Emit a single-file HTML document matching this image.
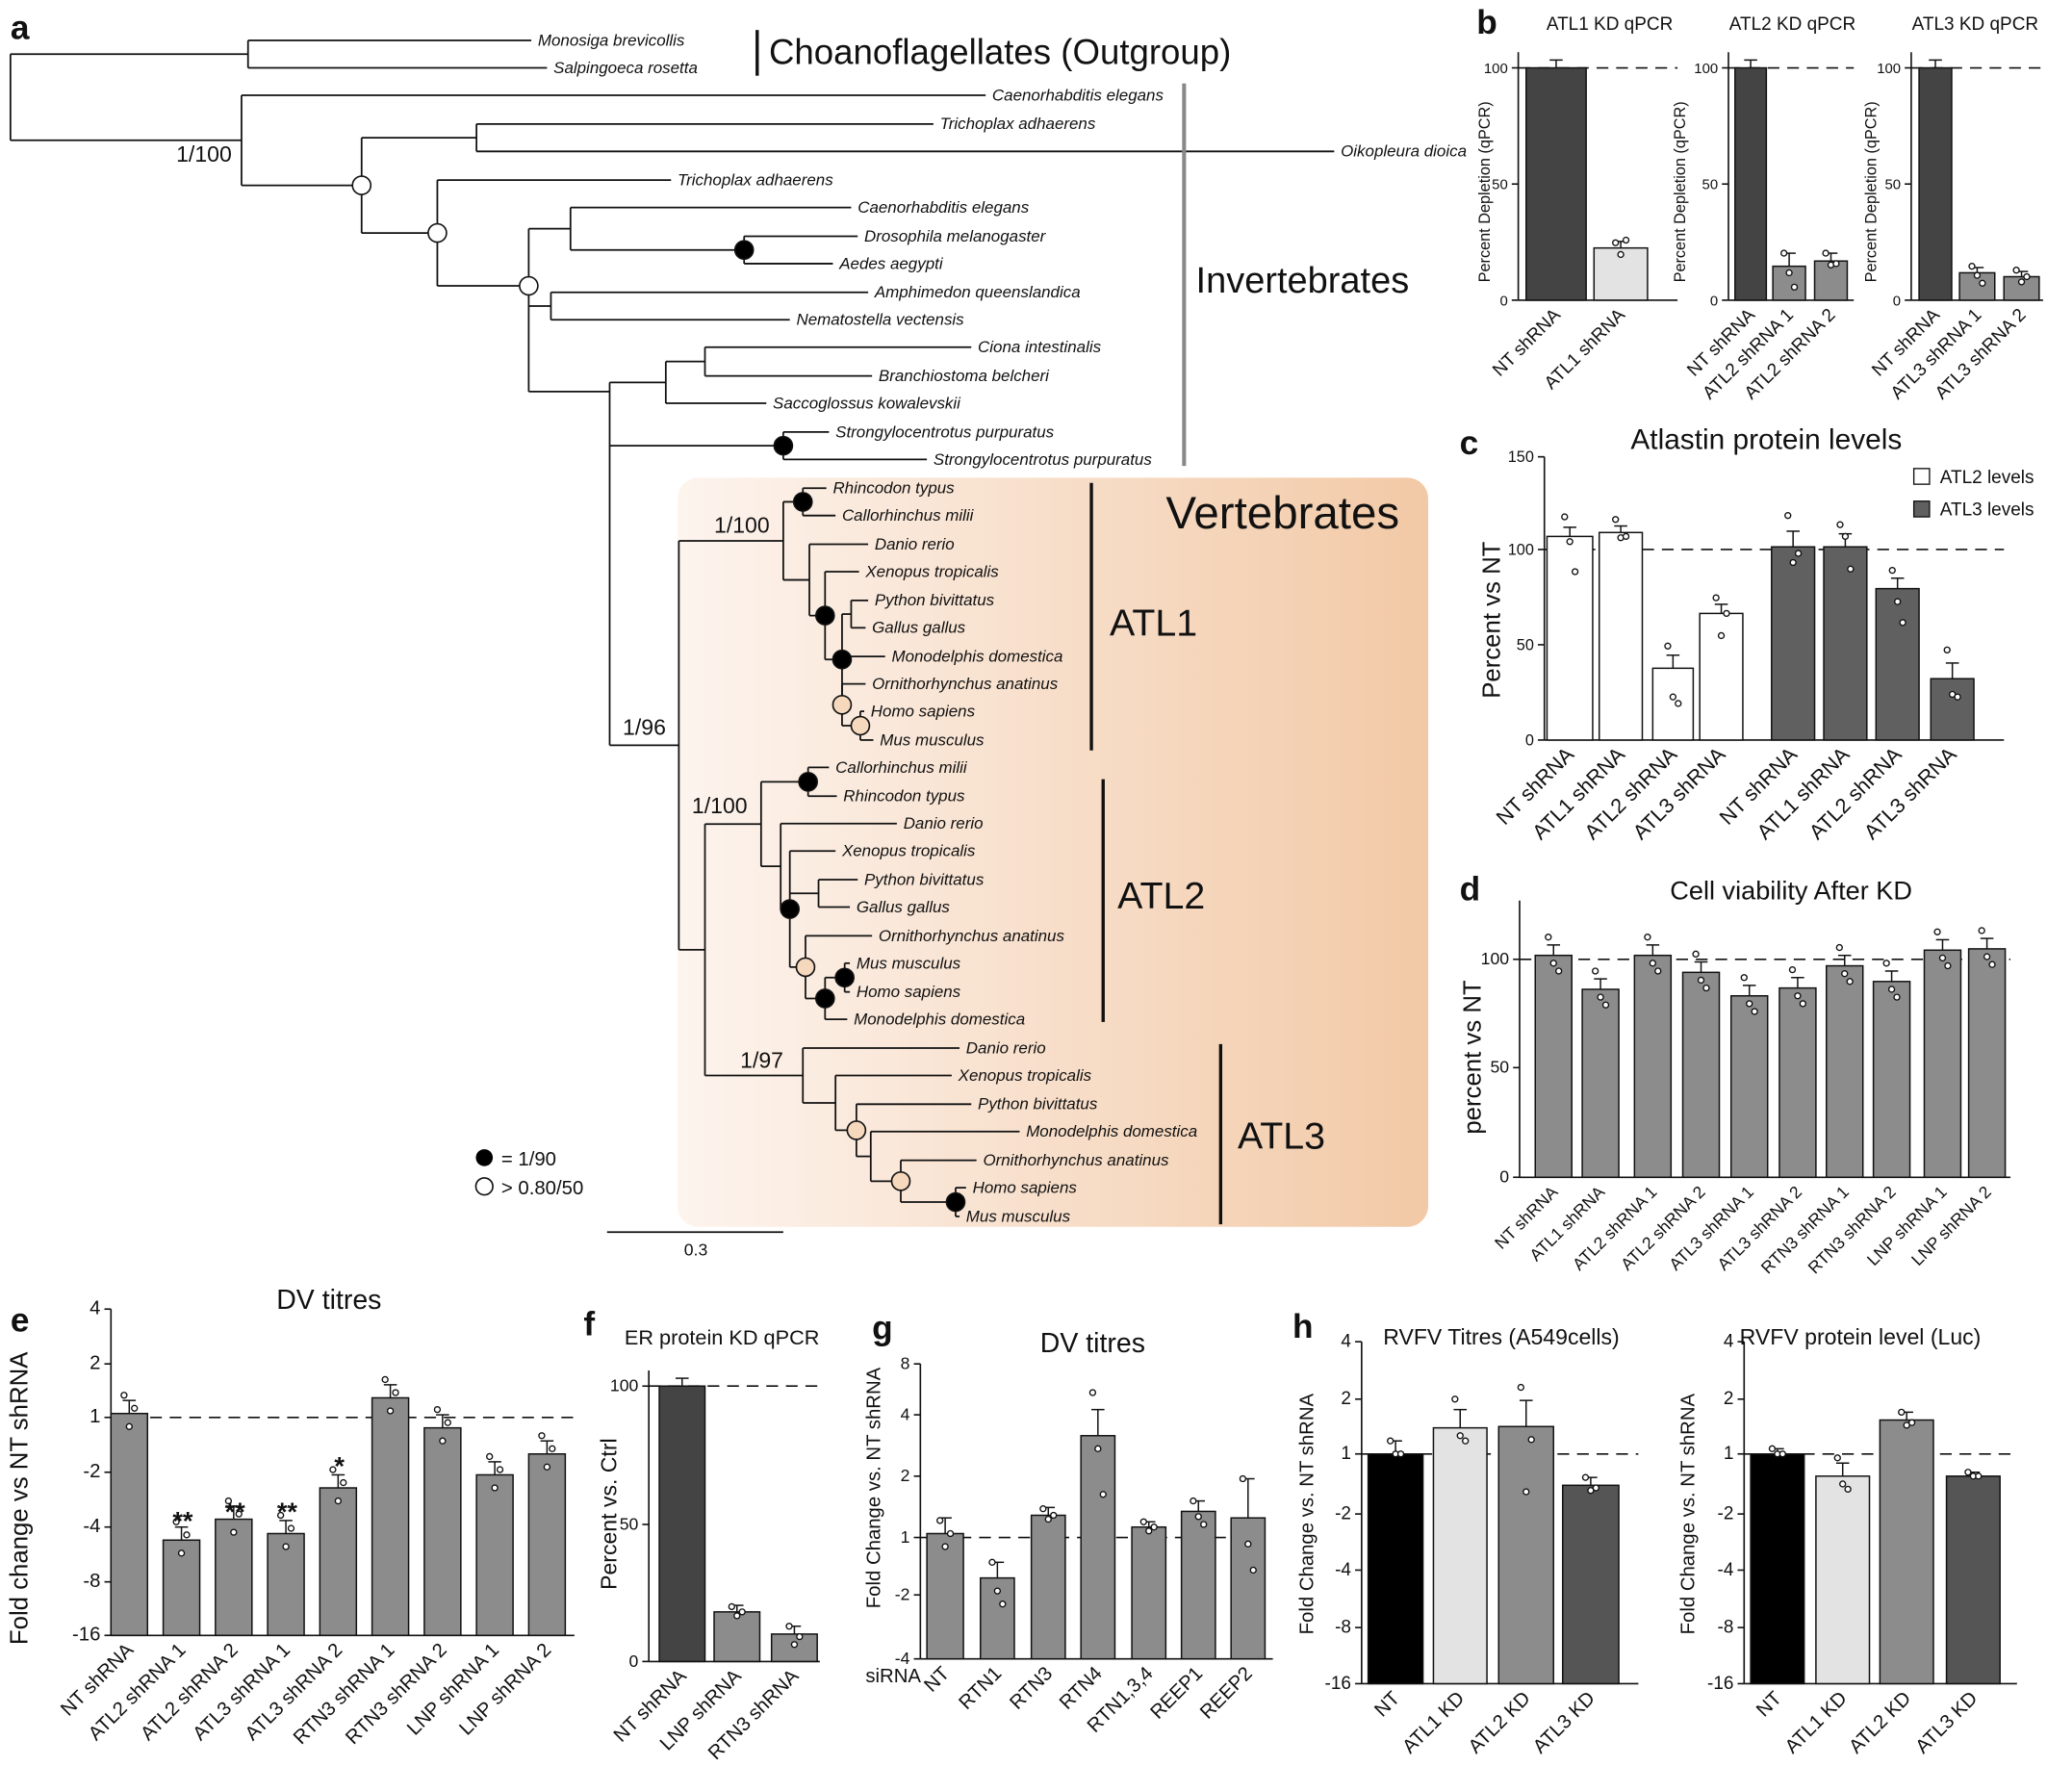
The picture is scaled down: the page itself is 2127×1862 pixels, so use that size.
<!DOCTYPE html>
<html><head><meta charset="utf-8">
<style>
html,body{margin:0;padding:0;background:#fff;}
svg{display:block;}
text{font-family:"Liberation Sans",Arial,sans-serif;fill:#111;}
</style></head>
<body>
<svg id="s" xmlns="http://www.w3.org/2000/svg" width="2127" height="1862" viewBox="0 0 1568 1373" preserveAspectRatio="none">
<defs>
<linearGradient id="vg" x1="0" x2="1" y1="0" y2="0">
<stop offset="0" stop-color="#fdf4ee"/><stop offset="1" stop-color="#f2c9a6"/>
</linearGradient>
</defs>
<rect x="519" y="366" width="575" height="574" rx="16" fill="url(#vg)"/>
<g id="tree" stroke="#111" stroke-width="1.3" fill="none"></g>
<g id="rest"></g>
</svg>
<script>
var NS="http://www.w3.org/2000/svg";
var tree=document.getElementById('tree'), rest=document.getElementById('rest');
function el(tag,attrs,parent,txt){var e=document.createElementNS(NS,tag);for(var k in attrs)e.setAttribute(k,attrs[k]);if(txt!==undefined)e.textContent=txt;(parent||rest).appendChild(e);return e;}
function line(x1,y1,x2,y2,p,st){el('line',Object.assign({x1:x1,y1:y1,x2:x2,y2:y2,stroke:'#111','stroke-width':1.3},st||{}),p||rest);}
function txt(x,y,s,fs,extra){var a=Object.assign({x:x,y:y},extra||{});var st='font-size:'+fs+'px;';if(a.it){st+='font-style:italic;';delete a.it;}if(a.b){st+='font-weight:bold;';delete a.b;}a.style=st;return el('text',a,rest,s);}
function T(y,lx,n){return {tip:1,y:y,lx:lx,n:n};}
function N(x,ch,o){o=o||{};return {x:x,ch:ch,y:o.y,c:o.c};}
var circles=[];
function draw(nd,px){
 if(nd.tip){line(px,nd.y,nd.lx-5,nd.y,tree);txt(nd.lx,nd.y+4,nd.n,12.5,{it:1});return nd.y;}
 var ys=nd.ch.map(function(c){return draw(c,nd.x);});
 var mn=Math.min.apply(null,ys),mx=Math.max.apply(null,ys);
 var y=nd.y!==undefined?nd.y:(mn+mx)/2;
 mn=Math.min(mn,y);mx=Math.max(mx,y);
 line(nd.x,mn,nd.x,mx,tree);
 if(px!==null)line(px,y,nd.x,y,tree);
 if(nd.c)circles.push([nd.x,y,nd.c]);
 return y;
}
var n659=N(659,[T(545,667,'Homo sapiens'),T(567,674,'Mus musculus')],{c:'p'});
var n645p=N(645,[T(524,668,'Ornithorhynchus anatinus'),n659],{c:'p'});
var n645b=N(645,[N(652,[T(460,670,'Python bivittatus'),T(481,668,'Gallus gallus')]),T(503,683,'Monodelphis domestica'),n645p],{c:'b'});
var n632=N(632,[T(438,663,'Xenopus tropicalis'),n645b],{c:'b'});
var atl1=N(600,[N(615,[T(374,638,'Rhincodon typus'),T(395,645,'Callorhinchus milii')],{c:'b'}),N(620,[T(417,670,'Danio rerio'),n632])]);
var n647=N(647,[T(738,656,'Mus musculus'),T(760,656,'Homo sapiens')],{c:'b'});
var n632b=N(632,[n647,T(781,654,'Monodelphis domestica')],{c:'b'});
var n617=N(617,[T(717,673,'Ornithorhynchus anatinus'),n632b],{c:'p'});
var n605=N(605,[T(652,645,'Xenopus tropicalis'),N(627,[T(674,662,'Python bivittatus'),T(695,656,'Gallus gallus')]),n617],{c:'b'});
var atl2=N(583,[N(619,[T(588,640,'Callorhinchus milii'),T(610,646,'Rhincodon typus')],{c:'b'}),N(598,[T(631,692,'Danio rerio'),n605])]);
var n732=N(732,[T(910,745,'Homo sapiens'),T(932,740,'Mus musculus')],{c:'b'});
var n690=N(690,[T(889,753,'Ornithorhynchus anatinus'),n732],{c:'p'});
var n656=N(656,[T(846,749,'Python bivittatus'),N(667,[T(867,786,'Monodelphis domestica'),n690])],{c:'p'});
var atl3=N(615,[T(803,740,'Danio rerio'),N(640,[T(824,734,'Xenopus tropicalis'),n656])]);
var V=N(520,[atl1,N(540,[atl2,atl3])]);
var n467=N(467,[N(510,[N(540,[T(266,749,'Ciona intestinalis'),T(288,673,'Branchiostoma belcheri')]),T(309,592,'Saccoglossus kowalevskii')]),N(600,[T(331,640,'Strongylocentrotus purpuratus'),T(352,715,'Strongylocentrotus purpuratus')],{c:'b'}),V],{y:300});
var F=N(405,[N(437,[T(159,657,'Caenorhabditis elegans'),N(570,[T(181,662,'Drosophila melanogaster'),T(202,643,'Aedes aegypti')],{c:'b'})]),N(422,[T(224,670,'Amphimedon queenslandica'),T(245,610,'Nematostella vectensis')]),n467],{y:219,c:'w'});
var root=N(8,[N(190,[T(31,412,'Monosiga brevicollis'),T(52,424,'Salpingoeca rosetta')]),N(185,[T(73,760,'Caenorhabditis elegans'),N(277,[N(365,[T(95,720,'Trichoplax adhaerens'),T(116,1027,'Oikopleura dioica')]),N(335,[T(138,519,'Trichoplax adhaerens'),F],{c:'w'})],{c:'w'})])]);
draw(root,null);
circles.forEach(function(c){el('circle',{cx:c[0],cy:c[1],r:7,fill:c[2]=='b'?'#000':(c[2]=='p'?'#f6d8bd':'#fff'),stroke:'#111','stroke-width':1.2});});
txt(8,30,'a',26,{b:1});
[[135,124,'1/100'],[547,408,'1/100'],[477,563,'1/96'],[530,623,'1/100'],[567,818,'1/97']].forEach(function(a){txt(a[0],a[1],a[2],17);});
line(580,23,580,58,null,{'stroke-width':2.5});
txt(589,49,'Choanoflagellates (Outgroup)',27);
line(907,64,907,357,null,{stroke:'#888','stroke-width':3});
txt(916,224,'Invertebrates',28);
txt(893,405,'Vertebrates',35);
line(836,370,836,575,null,{'stroke-width':2.5});txt(850,487,'ATL1',29);
line(845,597,845,783,null,{'stroke-width':2.5});txt(856,696,'ATL2',29);
line(935,800,935,938,null,{'stroke-width':2.5});txt(948,880,'ATL3',29);
el('circle',{cx:371,cy:887,r:6.5,fill:'#000'});txt(384,893,'= 1/90',15);
el('circle',{cx:371,cy:909,r:6.5,fill:'#fff',stroke:'#111','stroke-width':1.2});txt(384,915,'> 0.80/50',15);
line(465,944,600,944);txt(533,962,'0.3',13,{'text-anchor':'middle'});

function chart(o){
 var ax=o.ax,y0=o.y0,yt=o.yt;
 line(ax,yt,ax,y0,null,{'stroke-width':1.2});
 line(ax,y0,o.xe,y0,null,{'stroke-width':1.2});
 o.ticks.forEach(function(t){line(ax-5,t[1],ax,t[1],null,{'stroke-width':1.2});txt(ax-8,t[1]+4,t[0],o.tfs||12,{'text-anchor':'end'});});
 if(o.dash!==undefined)line(ax,o.dash,o.xe,o.dash,null,{'stroke-dasharray':'9,6','stroke-width':1.2});
 o.bars.forEach(function(b,i){
  el('rect',{x:b[0],y:b[2],width:b[1]-b[0],height:y0-b[2],fill:b[3],stroke:'#111','stroke-width':1.1});
  var cx=(b[0]+b[1])/2,e=b[4]||6;
  line(cx,b[2]-e,cx,b[2],null,{'stroke-width':1.1});line(cx-5,b[2]-e,cx+5,b[2]-e,null,{'stroke-width':1.1});
  (b[5]||[]).forEach(function(d,j){el('circle',{cx:cx+(j-1)*4,cy:b[2]+d,r:2.2,fill:'#fff',stroke:'#111','stroke-width':1});});
  if(o.xl){txt(cx+4,y0+12,o.xl[i],o.xfs||13,{'text-anchor':'end',transform:'rotate(-45 '+(cx+4)+' '+(y0+12)+')'});}
 });
 if(o.title)txt(o.title[0],o.title[1],o.title[2],o.title[3]||18,{'text-anchor':'middle'});
 if(o.yl){txt(o.yl[0],o.yl[1],o.yl[2],o.yl[3]||18,{'text-anchor':'middle',transform:'rotate(-90 '+o.yl[0]+' '+o.yl[1]+')'});}
}
var D='#444',L='#e3e3e3',G='#8c8c8c',W='#fff',M='#606060';
txt(1131,26,'b',26,{b:1});
chart({ax:1163,y0:230,yt:40,xe:1285,dash:52,tfs:11,ticks:[['100',52],['50',141],['0',230]],
 bars:[[1169,1215,52,D,0],[1221,1262,190,L,5,[-4,5,-6]]],xl:['NT shRNA','ATL1 shRNA'],xfs:14,title:[1233,23,'ATL1 KD qPCR',14],yl:[1141,147,'Percent Depletion (qPCR)',12]});
chart({ax:1324,y0:230,yt:40,xe:1420,dash:52,tfs:11,ticks:[['100',52],['50',141],['0',230]],
 bars:[[1329,1353,52,D,0],[1358,1383,204,G,10,[-10,5,16]],[1390,1415,200,G,6,[-6,3,2]]],xl:['NT shRNA','ATL2 shRNA 1','ATL2 shRNA 2'],xfs:14,title:[1373,23,'ATL2 KD qPCR',14],yl:[1291,147,'Percent Depletion (qPCR)',12]});
chart({ax:1464,y0:230,yt:40,xe:1565,dash:52,tfs:11,ticks:[['100',52],['50',141],['0',230]],
 bars:[[1470,1495,52,D,0],[1501,1528,209,G,4,[-5,2,8]],[1535,1562,212,G,4,[-5,4,0]]],xl:['NT shRNA','ATL3 shRNA 1','ATL3 shRNA 2'],xfs:14,title:[1513,23,'ATL3 KD qPCR',14],yl:[1437,147,'Percent Depletion (qPCR)',12]});
txt(1118,348,'c',26,{b:1});
chart({ax:1183,y0:567,yt:350,xe:1535,dash:421,tfs:12,ticks:[['150',350],['100',421],['50',494],['0',567]],
 bars:[[1185,1220,411,W,7,[-15,4,27]],[1225,1258,408,W,5,[-10,4,3]],[1266,1297,512,W,10,[-17,22,27]],[1302,1335,470,W,7,[-12,17,0]],
 [1357,1390,419,M,12,[-24,12,5]],[1397,1430,419,M,10,[-17,-8,17]],[1437,1470,451,M,8,[-14,10,26]],[1479,1512,520,M,12,[-22,12,14]]],
 xl:['NT shRNA','ATL1 shRNA','ATL2 shRNA','ATL3 shRNA','NT shRNA','ATL1 shRNA','ATL2 shRNA','ATL3 shRNA'],xfs:16,title:[1353,344,'Atlastin protein levels',22],yl:[1149,475,'Percent vs NT',19]});
el('rect',{x:1466,y:359,width:12,height:12,fill:'#fff',stroke:'#111'});txt(1486,370,'ATL2 levels',14);
el('rect',{x:1466,y:384,width:12,height:12,fill:M,stroke:'#111'});txt(1486,395,'ATL3 levels',14);
txt(1118,690,'d',26,{b:1});
var dx=[1190,1226,1266,1303,1340,1377,1413,1449,1488,1522],dt=[732,758,732,745,763,757,740,752,728,727],db=[];
dx.forEach(function(c,i){db.push([c-14,c+14,dt[i],G,8,[-14,6,12]]);});
chart({ax:1164,y0:902,yt:690,xe:1540,dash:735,tfs:13,ticks:[['100',735],['50',818],['0',902]],bars:db,
 xl:['NT shRNA','ATL1 shRNA','ATL2 shRNA 1','ATL2 shRNA 2','ATL3 shRNA 1','ATL3 shRNA 2','RTN3 shRNA 1','RTN3 shRNA 2','LNP shRNA 1','LNP shRNA 2'],xfs:13,title:[1372,689,'Cell viability After KD',20],yl:[1134,810,'percent vs NT',19]});
txt(8,1020,'e',26,{b:1});
var ex=[99,139,179,219,259,299,339,379,419],et=[1083,1180,1164,1175,1140,1071,1094,1130,1114],eb=[];
ex.forEach(function(c,i){eb.push([c-14,c+14,et[i],G,10,[-14,10,-4]]);});
chart({ax:85,y0:1253,yt:1003,xe:440,dash:1086,tfs:15,ticks:[['4',1003],['2',1045],['1',1086],['-2',1128],['-4',1170],['-8',1212],['-16',1253]],bars:eb,
 xl:['NT shRNA','ATL2 shRNA 1','ATL2 shRNA 2','ATL3 shRNA 1','ATL3 shRNA 2','RTN3 shRNA 1','RTN3 shRNA 2','LNP shRNA 1','LNP shRNA 2'],xfs:15,title:[252,1003,'DV titres',21],yl:[21,1148,'Fold change vs NT shRNA',19]});
[[140,1172,'**'],[180,1165,'**'],[220,1165,'**'],[260,1130,'*']].forEach(function(a){txt(a[0],a[1],a[2],20,{'text-anchor':'middle',b:1});});
txt(447,1023,'f',26,{b:1});
chart({ax:497,y0:1273,yt:1050,xe:628,dash:1062,tfs:13,ticks:[['100',1062],['50',1168],['0',1273]],
 bars:[[505,540,1062,D,0],[547,582,1235,G,5,[-4,3,0]],[591,626,1252,G,6,[-6,8,2]]],xl:['NT shRNA','LNP shRNA','RTN3 shRNA'],xfs:15,title:[553,1030,'ER protein KD qPCR',16],yl:[472,1160,'Percent vs. Ctrl',17]});
txt(668,1026,'g',26,{b:1});
var gb=[[710,738,1175,G,12,[-10,10,0]],[751,777,1209,G,12,[-12,10,20]],[790,816,1161,G,6,[-5,3,0]],[828,854,1100,G,20,[-33,10,45]],[867,893,1170,G,4,[-4,3,0]],[905,931,1158,G,8,[-8,4,10]],[943,969,1163,G,30,[-30,20,40]]];
chart({ax:705,y0:1271,yt:1045,xe:975,dash:1178,tfs:13,ticks:[['8',1045],['4',1084],['2',1131],['1',1178],['-2',1222],['-4',1271]],bars:gb,
 xl:['NT','RTN1','RTN3','RTN4','RTN1,3,4','REEP1','REEP2'],xfs:15,title:[837,1036,'DV titres',21],yl:[674,1140,'Fold Change vs. NT shRNA',15]});
txt(663,1289,'siRNA',15);
txt(990,1025,'h',26,{b:1});
var hticks=[['4',1028],['2',1072],['1',1114],['-2',1160],['-4',1203],['-8',1247],['-16',1290]];
chart({ax:1043,y0:1290,yt:1028,xe:1255,dash:1114,tfs:14,ticks:hticks,
 bars:[[1048,1090,1114,'#000',10,[-10,0,0]],[1098,1139,1094,L,14,[-22,6,10]],[1148,1190,1093,G,20,[-30,50,10]],[1197,1240,1138,'#555',6,[-6,4,2]]],
 xl:['NT','ATL1 KD','ATL2 KD','ATL3 KD'],xfs:15,title:[1150,1030,'RVFV Titres (A549cells)',17],yl:[1006,1160,'Fold Change vs. NT shRNA',15]});
chart({ax:1336,y0:1290,yt:1028,xe:1545,dash:1114,tfs:14,ticks:hticks,
 bars:[[1341,1382,1114,'#000',4,[-4,0,0]],[1391,1432,1131,L,10,[-14,6,10]],[1440,1481,1088,G,6,[-6,4,2]],[1491,1532,1131,'#555',3,[-3,0,0]]],
 xl:['NT','ATL1 KD','ATL2 KD','ATL3 KD'],xfs:15,title:[1425,1030,'RVFV protein level (Luc)',17],yl:[1298,1160,'Fold Change vs. NT shRNA',15]});
</script>
</body></html>
